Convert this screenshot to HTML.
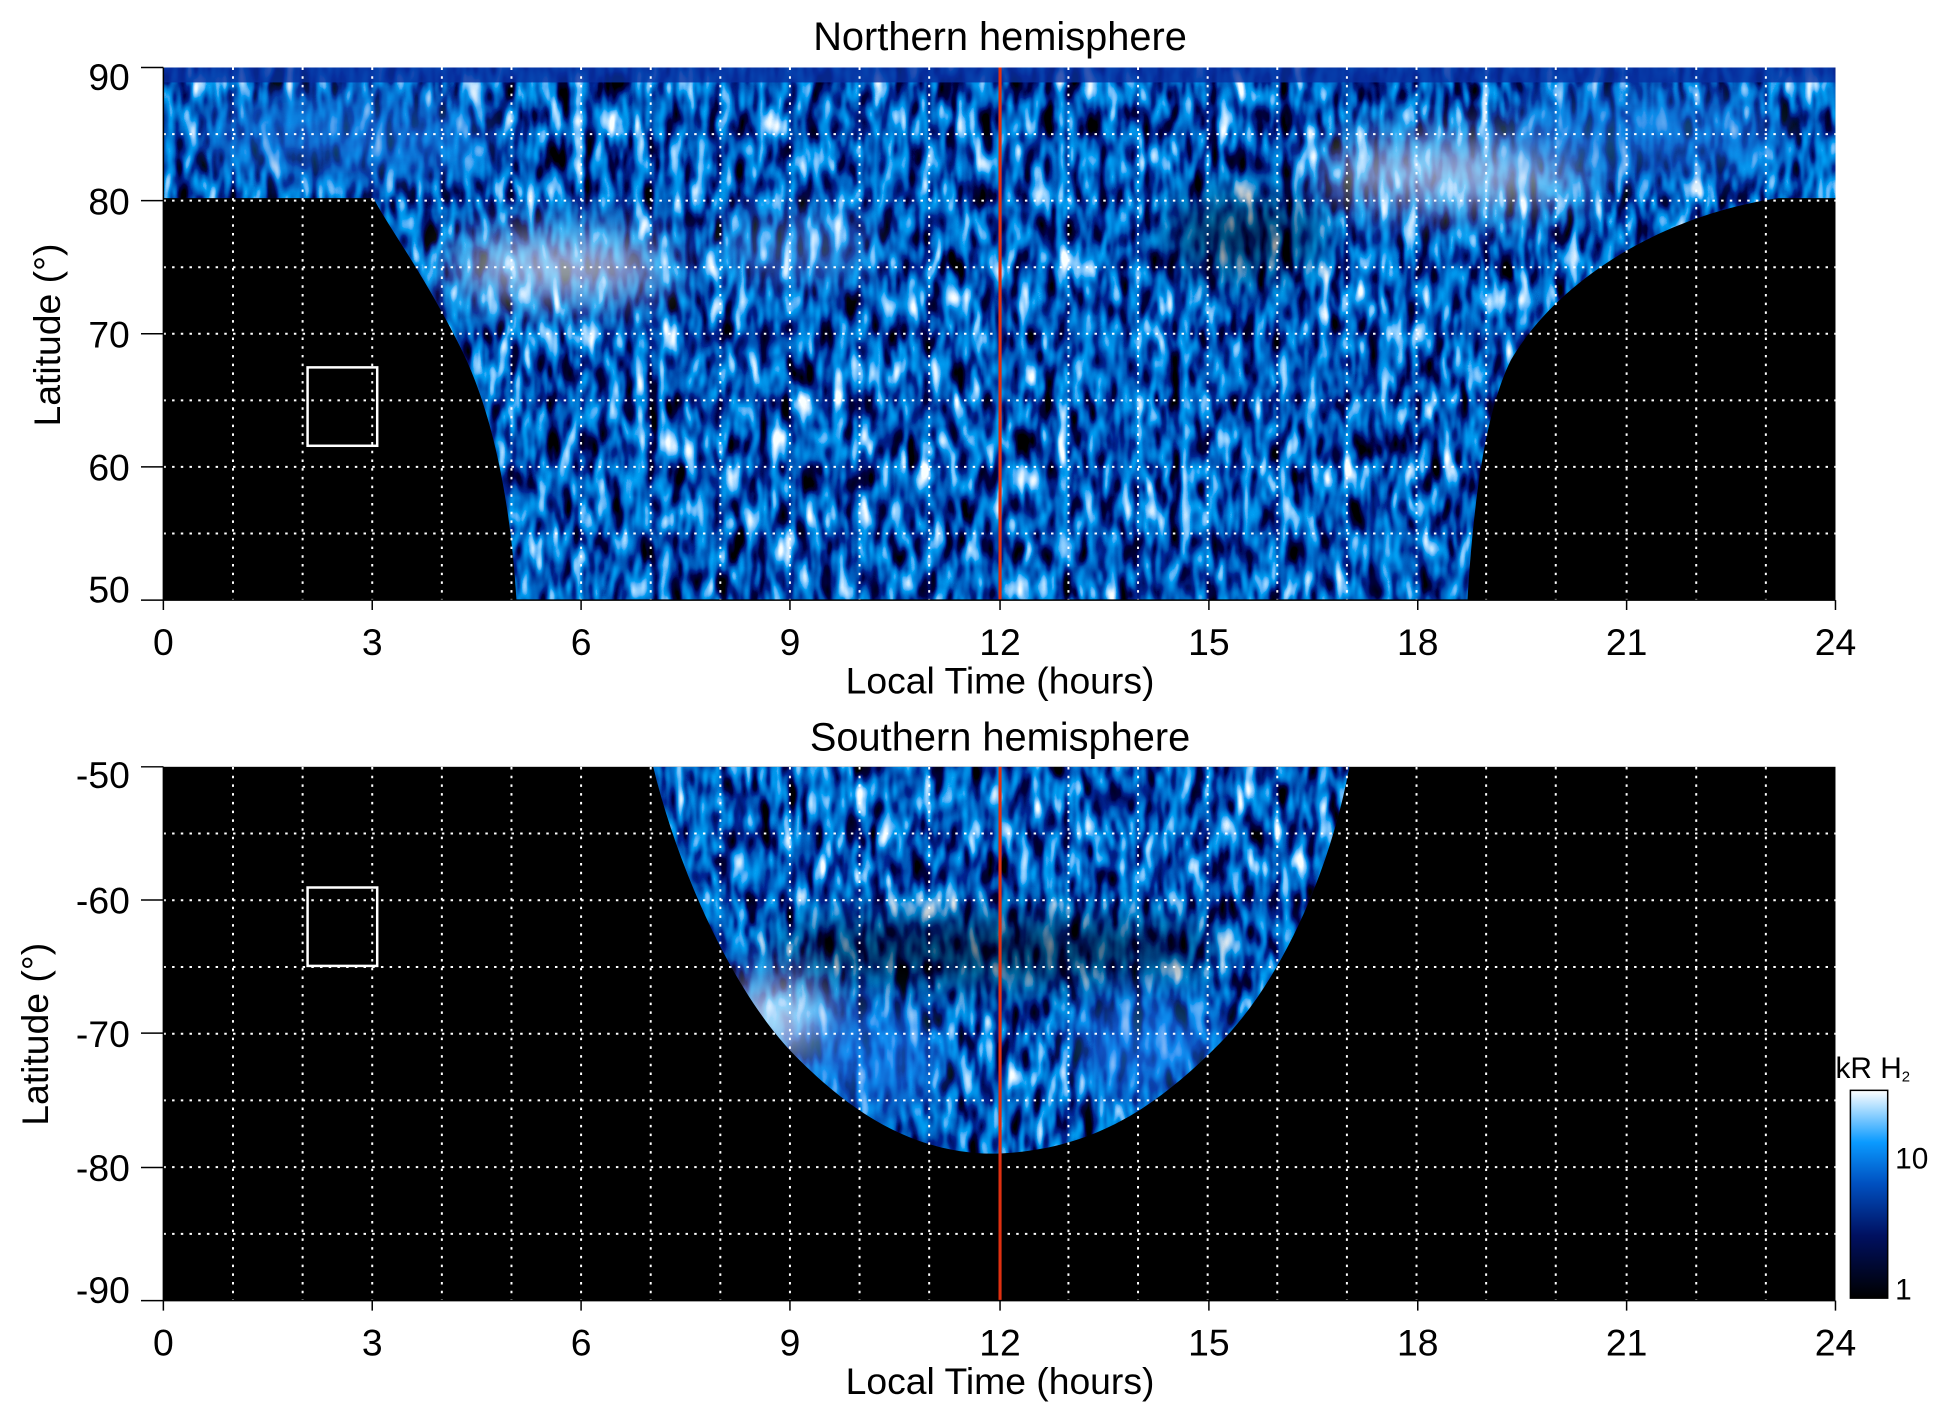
<!DOCTYPE html>
<html><head><meta charset="utf-8"><style>body{margin:0;background:#fff}svg{display:block}</style></head><body>
<svg width="1950" height="1423" viewBox="0 0 1560 1138.4" xmlns="http://www.w3.org/2000/svg" font-family="Liberation Sans, sans-serif">
<defs>
<filter id="tex" x="0" y="0" width="100%" height="100%">
<feTurbulence type="fractalNoise" baseFrequency="0.1 0.035" numOctaves="2" seed="3"/>
<feColorMatrix type="matrix" values="0 0 0 0 0  0 0 0 0 0  0 0 0 0 0  1.1 1.1 0 0 -0.65"/>
<feColorMatrix type="matrix" values="0 0 0 1 0  0 0 0 1 0  0 0 0 1 0  0 0 0 0 1"/>
<feComponentTransfer>
<feFuncR type="table" tableValues="0 0 0 0 0 0.3 0.95"/>
<feFuncG type="table" tableValues="0 0 0.02 0.15 0.35 0.65 1"/>
<feFuncB type="table" tableValues="0 0.05 0.3 0.6 0.9 1 1"/>
</feComponentTransfer>
</filter>
<filter id="bl" x="-100%" y="-200%" width="300%" height="500%"><feGaussianBlur stdDeviation="18"/></filter>
<clipPath id="ctop"><path d="M131,55 H1476 V160 H1430 C1330,175 1250,230 1215,290 C1195,330 1185,400 1180,483 H415 C410,400 395,330 370,280 C340,220 310,180 300,160 H131 Z"/></clipPath>
<clipPath id="cbot"><path d="M525,617 H1085 C1070,700 1030,790 980,840 C930,890 880,925 800,928 C730,928 680,890 640,850 C590,800 545,700 525,617 Z"/></clipPath>
<linearGradient id="cb" x1="0" y1="1" x2="0" y2="0"><stop offset="0" stop-color="#000"/><stop offset="0.3" stop-color="#001060"/><stop offset="0.55" stop-color="#0050c0"/><stop offset="0.75" stop-color="#0a9aff"/><stop offset="1" stop-color="#fff"/></linearGradient>
</defs>
<g transform="matrix(0.99456 0 0 0.99546 0.41 -0.75)">
<rect x="131" y="55" width="1345" height="428" fill="#000"/>
<g clip-path="url(#ctop)">
<rect x="131" y="55" width="1345" height="428" filter="url(#tex)"/>
<ellipse cx="450" cy="215" rx="90" ry="22" fill="#e8f4ff" opacity="0.8" filter="url(#bl)"/>
<ellipse cx="1170" cy="140" rx="110" ry="25" fill="#e8f4ff" opacity="0.7" filter="url(#bl)"/>
<ellipse cx="640" cy="200" rx="60" ry="15" fill="#8cc8ff" opacity="0.6" filter="url(#bl)"/>
<ellipse cx="280" cy="110" rx="120" ry="30" fill="#1a7ae0" opacity="0.6" filter="url(#bl)"/>
<ellipse cx="1320" cy="110" rx="120" ry="30" fill="#1a7ae0" opacity="0.6" filter="url(#bl)"/>
<ellipse cx="1000" cy="190" rx="60" ry="30" fill="#000" opacity="0.5" filter="url(#bl)"/>
<rect x="131" y="55" width="1345" height="12" fill="#0830a0" opacity="0.8"/>
</g>
<rect x="131" y="617" width="1345" height="429" fill="#000"/>
<g clip-path="url(#cbot)">
<rect x="131" y="617" width="1345" height="429" filter="url(#tex)"/>
<ellipse cx="800" cy="765" rx="180" ry="22" fill="#000" opacity="0.6" filter="url(#bl)"/>
<ellipse cx="625" cy="820" rx="45" ry="30" fill="#e8f4ff" opacity="0.8" filter="url(#bl)"/>
<ellipse cx="700" cy="850" rx="60" ry="40" fill="#1a80f0" opacity="0.6" filter="url(#bl)"/>
<ellipse cx="920" cy="840" rx="60" ry="40" fill="#1a80f0" opacity="0.6" filter="url(#bl)"/>
</g>
<g stroke="#fff" stroke-width="1.6" stroke-dasharray="2,5" fill="none">
<path id="vg" d="M187,55V483M243,55V483M299,55V483M355,55V483M411,55V483M467,55V483M523,55V483M579,55V483M635,55V483M691,55V483M747,55V483M859,55V483M915,55V483M971,55V483M1027,55V483M1083,55V483M1139,55V483M1195,55V483M1251,55V483M1308,55V483M1364,55V483M1420,55V483"/>
<path d="M131,108.5H1476M131,162H1476M131,215.5H1476M131,269H1476M131,322.5H1476M131,376H1476M131,429.5H1476"/>
<use href="#vg" transform="translate(0,562) scale(1,1.0023)"/>
<path d="M131,670.6H1476M131,724.2H1476M131,777.9H1476M131,831.5H1476M131,885.1H1476M131,938.7H1476M131,992.4H1476"/>
</g>
<g stroke="#fff" stroke-width="2" fill="none"><rect x="247" y="296" width="56" height="63"/><rect x="247" y="714" width="56" height="63"/></g>
<g stroke="#e03010" stroke-width="2.5"><line x1="804" y1="55" x2="804" y2="483"/><line x1="804" y1="617" x2="804" y2="1046"/></g>
<g stroke="#000" stroke-width="1.2">
<line x1="131" y1="55" x2="131" y2="483"/><line x1="131" y1="483" x2="1476" y2="483"/>
<line x1="131" y1="617" x2="131" y2="1046"/><line x1="131" y1="1046" x2="1476" y2="1046"/>
<path d="M113,55H131M113,162H131M113,269H131M113,376H131M113,483H131M113,617H131M113,724H131M113,831H131M113,939H131M113,1046H131"/>
<path d="M131,483v8M299,483v8M467,483v8M635,483v8M804,483v8M972,483v8M1140,483v8M1308,483v8M1476,483v8M131,1046v8M299,1046v8M467,1046v8M635,1046v8M804,1046v8M972,1046v8M1140,1046v8M1308,1046v8M1476,1046v8"/>
</g>
<g font-size="30" text-anchor="end" fill="#000">
<text x="104" y="73">90</text><text x="104" y="173">80</text><text x="104" y="280">70</text><text x="104" y="387">60</text><text x="104" y="485">50</text>
<text x="104" y="634">-50</text><text x="104" y="735">-60</text><text x="104" y="842">-70</text><text x="104" y="950">-80</text><text x="104" y="1048">-90</text>
</g>
<g font-size="30" text-anchor="middle" fill="#000">
<text x="131" y="527">0</text><text x="299" y="527">3</text><text x="467" y="527">6</text><text x="635" y="527">9</text><text x="804" y="527">12</text><text x="972" y="527">15</text><text x="1140" y="527">18</text><text x="1308" y="527">21</text><text x="1476" y="527">24</text>
<text x="131" y="1090">0</text><text x="299" y="1090">3</text><text x="467" y="1090">6</text><text x="635" y="1090">9</text><text x="804" y="1090">12</text><text x="972" y="1090">15</text><text x="1140" y="1090">18</text><text x="1308" y="1090">21</text><text x="1476" y="1090">24</text>
<text x="804" y="558">Local Time (hours)</text><text x="804" y="1121">Local Time (hours)</text>
<text transform="translate(48,270) rotate(-90)">Latitude (°)</text>
<text transform="translate(38,832) rotate(-90)">Latitude (°)</text>
</g>
<g font-size="32" text-anchor="middle" fill="#000">
<text x="804" y="41">Northern hemisphere</text><text x="804" y="604">Southern hemisphere</text>
</g>
<rect x="1488" y="877" width="30" height="167" fill="url(#cb)" stroke="#000" stroke-width="1.2"/>
<g font-size="24" fill="#000"><text x="1476" y="867">kR H<tspan font-size="12" dy="3">2</tspan></text><text x="1524" y="940">10</text><text x="1524" y="1045">1</text></g>
</g>
</svg>
</body></html>
